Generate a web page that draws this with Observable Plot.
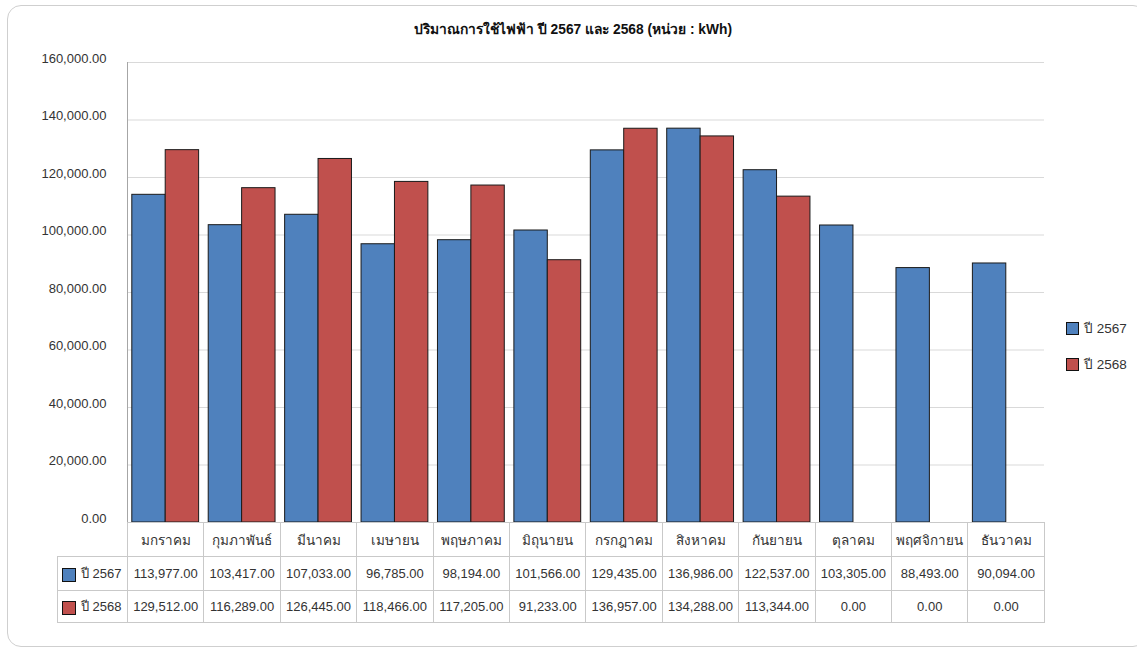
<!DOCTYPE html>
<html><head><meta charset="utf-8">
<script src="https://cdn.jsdelivr.net/npm/d3@7"></script>
<script src="https://cdn.jsdelivr.net/npm/@observablehq/plot@0.6"></script>
<style>
html,body{margin:0;padding:0;background:#fff;}
body{width:1137px;height:650px;position:relative;overflow:hidden;font-family:"Liberation Sans",Arial,"DejaVu Sans",sans-serif;color:#333;}
#box{position:absolute;left:7px;top:5px;width:1140px;height:642px;border:1px solid #cfcfcf;border-radius:14px;box-sizing:border-box;}
#title{position:absolute;left:7px;width:1132px;top:18px;text-align:center;font-weight:bold;font-size:13.8px;color:#111;}
#chart{position:absolute;left:0;top:0;}
#legend{position:absolute;left:1066px;top:317px;font-size:13.5px;color:#333;}
.li{height:36px;display:flex;align-items:flex-start;}
.sw{width:13px;height:13px;border:1px solid #111;box-sizing:border-box;margin-top:5px;margin-right:5px;}
#tbl{position:absolute;left:57px;top:522px;border-collapse:collapse;table-layout:fixed;font-size:13px;color:#333;}
#tbl td{border:1px solid #c9c9c9;text-align:center;padding:0;white-space:nowrap;overflow:hidden;}
#tbl tr.h td{height:33px;font-size:13.5px;}
#tbl tr.r1 td{height:33px;}
#tbl tr.r2 td{height:31px;}
#tbl td.k{text-align:left;padding-left:4px;}
#tbl td.k .sw{display:inline-block;vertical-align:middle;margin:0 5px 0 0;width:14px;height:14px;}
#tbl td.blank{border:none;border-right:1px solid #c9c9c9;}
</style></head>
<body>
<div id="box"></div>
<div id="title"></div>
<div id="chart"></div>
<div id="legend"></div>
<table id="tbl"></table>
<script>
const title = "ปริมาณการใช้ไฟฟ้า ปี 2567 และ 2568 (หน่วย : kWh)";
const months = ["มกราคม","กุมภาพันธ์","มีนาคม","เมษายน","พฤษภาคม","มิถุนายน","กรกฎาคม","สิงหาคม","กันยายน","ตุลาคม","พฤศจิกายน","ธันวาคม"];
const years = ["ปี 2567","ปี 2568"];
const v2567 = [113977,103417,107033,96785,98194,101566,129435,136986,122537,103305,88493,90094];
const v2568 = [129512,116289,126445,118466,117205,91233,136957,134288,113344,0,0,0];
const yTicks = [0,20000,40000,60000,80000,100000,120000,140000,160000];
const colors = ["#4F81BD","#C0504D"];

const series = [v2567, v2568];
const data = [];
years.forEach((y,i)=>months.forEach((m,j)=>data.push({month:m, year:y, value:series[i][j]})));
const fmt = d3.format(",.2f");

document.getElementById("title").textContent = title;

const W = 1137, H = 540, mL = 127, mR = 93, mT = 62, mB = 18;
const bw = (W - mL - mR) / months.length;
const outer = 4.8, inner = bw / 2;

const chart = Plot.plot({
  width: W, height: H,
  marginLeft: mL, marginRight: mR, marginTop: mT, marginBottom: mB,
  style: {fontFamily: "'Liberation Sans', Arial, sans-serif", fontSize: "13px", color: "#333", background: "transparent"},
  x: {domain: months, padding: 0, round: false, axis: null},
  y: {domain: [0, 160000], axis: null, label: null},
  color: {domain: years, range: colors},
  marks: [
    Plot.gridY(yTicks, {stroke: "#d9d9d9", strokeOpacity: 1}),
    Plot.frame({anchor: "left", stroke: "#a6a6a6"}),
    Plot.axisY(yTicks, {tickSize: 0, tickPadding: 21, tickFormat: fmt, fontSize: 13, fill: "#333", label: null, dy: -4}),
    Plot.barY(data.filter(d => d.year === years[0] && d.value > 0), {x: "month", y: "value", fill: "year", stroke: "#1a1a1a", strokeWidth: 1, insetLeft: outer, insetRight: inner}),
    Plot.barY(data.filter(d => d.year === years[1] && d.value > 0), {x: "month", y: "value", fill: "year", stroke: "#1a1a1a", strokeWidth: 1, insetLeft: inner, insetRight: outer})
  ]
});
document.getElementById("chart").appendChild(chart);

// legend
const lg = document.getElementById("legend");
years.forEach((y,i)=>{
  const d = document.createElement("div"); d.className = "li";
  const s = document.createElement("span"); s.className = "sw"; s.style.background = colors[i];
  const t = document.createElement("span"); t.textContent = y;
  d.appendChild(s); d.appendChild(t); lg.appendChild(d);
});

// data table
const tbl = document.getElementById("tbl");
const cg = document.createElement("colgroup");
const c0 = document.createElement("col"); c0.style.width = (mL - 57) + "px"; cg.appendChild(c0);
months.forEach(()=>{const c = document.createElement("col"); c.style.width = bw + "px"; cg.appendChild(c);});
tbl.appendChild(cg);
tbl.style.width = (W - mR - 57) + "px";
const hr = document.createElement("tr"); hr.className = "h";
const b = document.createElement("td"); b.className = "blank"; hr.appendChild(b);
months.forEach(m=>{const td = document.createElement("td"); td.textContent = m; hr.appendChild(td);});
tbl.appendChild(hr);
years.forEach((y,i)=>{
  const tr = document.createElement("tr"); tr.className = "r" + (i+1);
  const k = document.createElement("td"); k.className = "k";
  const s = document.createElement("span"); s.className = "sw"; s.style.background = colors[i];
  k.appendChild(s); k.appendChild(document.createTextNode(y)); tr.appendChild(k);
  series[i].forEach(v=>{const td = document.createElement("td"); td.textContent = fmt(v); tr.appendChild(td);});
  tbl.appendChild(tr);
});
</script>
</body></html>
